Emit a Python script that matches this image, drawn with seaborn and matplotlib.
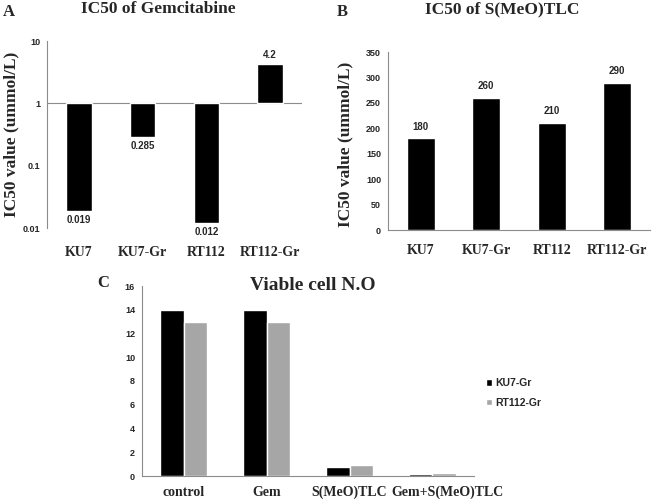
import numpy as np
import pandas as pd
import matplotlib
matplotlib.use("Agg")
import matplotlib.pyplot as plt
from matplotlib.transforms import ScaledTranslation
import seaborn as sns

# ---- data ----
cells = ["KU7", "KU7-Gr", "RT112", "RT112-Gr"]
gem_ic50 = [0.019, 0.285, 0.012, 4.2]
smeo_ic50 = [180, 260, 210, 290]
gem_ticks = [0.01, 0.1, 1, 10]
smeo_ticks = [0, 50, 100, 150, 200, 250, 300, 350]

treatments = ["control", "Gem", "S(MeO)TLC", "Gem+S(MeO)TLC"]
ku7gr_viable = [14, 14, 0.72, 0.17]
rt112gr_viable = [13, 13, 0.92, 0.22]
viable_ticks = [0, 2, 4, 6, 8, 10, 12, 14, 16]
series_names = ["KU7-Gr", "RT112-Gr"]

sns.set_style("white")
SERIF = "Liberation Serif"
SANS = "Liberation Sans"
GRAY_AX = "#8c8c8c"
BAR_GRAY = "#a6a6a6"

W, H = 655, 499
fig = plt.figure(figsize=(W / 100, H / 100), dpi=100)

def box(l, r, t, b):
    return [l / W, 1 - b / H, (r - l) / W, (b - t) / H]

def style_axes(ax):
    for s in ["top", "right"]:
        ax.spines[s].set_visible(False)
    for s in ["left", "bottom"]:
        ax.spines[s].set_color(GRAY_AX)
        ax.spines[s].set_linewidth(0.8)
    ax.tick_params(axis="y", length=3, width=0.8, color=GRAY_AX, pad=2)
    for lab in ax.get_yticklabels():
        lab.set_fontfamily(SANS)
        lab.set_fontweight("bold")
        lab.set_fontsize(6.5)

# ---- Panel A (log scale, bars hang from 1) ----
axA = fig.add_axes(box(47, 302, 41, 228))
dfA = pd.DataFrame({"cell": cells, "logv": np.log10(gem_ic50)})
sns.barplot(data=dfA, x="cell", y="logv", color="black", saturation=1,
            width=0.4, ax=axA)
axA.set_ylim(np.log10(gem_ticks[0]), np.log10(gem_ticks[-1]))
axA.set_yticks(np.log10(gem_ticks))
axA.set_yticklabels([f"{t:g}" for t in gem_ticks])
axA.axhline(0, color=GRAY_AX, lw=0.8, zorder=0)
axA.set_xlabel("")
axA.set_ylabel("IC50 value (ummol/L)", fontfamily=SERIF, fontweight="bold",
               fontsize=12.5)
axA.yaxis.set_label_coords((19 - 47) / 255, 0.5)
style_axes(axA)
axA.spines["bottom"].set_visible(False)
axA.tick_params(axis="x", length=0, pad=13)
for lab in axA.get_xticklabels():
    lab.set_fontfamily(SERIF); lab.set_fontweight("bold"); lab.set_fontsize(10)
axA.bar_label(axA.containers[0], labels=[f"{v:g}" for v in gem_ic50],
              padding=3, fontfamily=SANS, fontweight="bold", fontsize=7)

# ---- Panel B ----
axB = fig.add_axes(box(388, 650, 52, 230))
dfB = pd.DataFrame({"cell": cells, "v": smeo_ic50})
sns.barplot(data=dfB, x="cell", y="v", color="black", saturation=1,
            width=0.42, ax=axB)
axB.set_ylim(smeo_ticks[0], smeo_ticks[-1])
axB.set_yticks(smeo_ticks)
axB.set_xlabel("")
axB.set_ylabel("IC50 value (ummol/L)", fontfamily=SERIF, fontweight="bold",
               fontsize=12.5)
axB.yaxis.set_label_coords((353 - 388) / 262, 0.48)
style_axes(axB)
axB.set_xlim(-0.5, len(cells) - 0.5)
axB.set_xticks(np.arange(len(cells) + 1) - 0.5, minor=True)
axB.tick_params(axis="x", which="major", length=0, pad=10)
axB.tick_params(axis="x", which="minor", length=3, width=0.8, color=GRAY_AX)
for lab in axB.get_xticklabels():
    lab.set_fontfamily(SERIF); lab.set_fontweight("bold"); lab.set_fontsize(10)
axB.bar_label(axB.containers[0], labels=[f"{v:g}" for v in smeo_ic50],
              padding=5, fontfamily=SANS, fontweight="bold", fontsize=7)

# ---- Panel C ----
axC = fig.add_axes(box(142, 474, 286, 476))
dfC = pd.DataFrame({
    "treatment": treatments * 2,
    "viable": ku7gr_viable + rt112gr_viable,
    "line": [series_names[0]] * len(treatments) + [series_names[1]] * len(treatments),
})
sns.barplot(data=dfC, x="treatment", y="viable", hue="line",
            palette=["black", BAR_GRAY], saturation=1, width=0.56, ax=axC)
axC.set_ylim(viable_ticks[0], viable_ticks[-1])
axC.set_yticks(viable_ticks)
axC.set_xlabel("")
axC.set_ylabel("")
style_axes(axC)
axC.set_xlim(-0.5, len(treatments) - 0.5)
axC.set_xticks(np.arange(len(treatments) + 1) - 0.5, minor=True)
axC.tick_params(axis="x", which="major", length=0, pad=7)
axC.tick_params(axis="x", which="minor", length=3, width=0.8, color=GRAY_AX)
xlabsC = axC.get_xticklabels()
for lab in xlabsC:
    lab.set_fontfamily(SERIF); lab.set_fontweight("bold"); lab.set_fontsize(10)
# last label is nudged right in the reference to avoid overlap
xlabsC[-1].set_transform(xlabsC[-1].get_transform()
                         + ScaledTranslation(0.15, 0, fig.dpi_scale_trans))
axC.legend(title=None, loc="center left", bbox_to_anchor=(481 / W, 1 - 393 / H),
           bbox_transform=fig.transFigure, frameon=False,
           prop={"family": SANS, "weight": "bold", "size": 7.5},
           handlelength=0.55, handleheight=0.55, handletextpad=0.3,
           labelspacing=0.9, borderpad=0)

# ---- titles and panel letters ----
tkw = dict(fontfamily=SERIF, fontweight="bold", ha="center", va="center")
fig.text(158 / W, 1 - 9 / H, "IC50 of Gemcitabine", fontsize=12.5, **tkw)
fig.text(502 / W, 1 - 9 / H, "IC50 of S(MeO)TLC", fontsize=12.5, **tkw)
fig.text(313 / W, 1 - 285 / H, "Viable cell N.O", fontsize=14, **tkw)
fig.text(9 / W, 1 - 12 / H, "A", fontsize=12, **tkw)
fig.text(342 / W, 1 - 12 / H, "B", fontsize=12, **tkw)
fig.text(103 / W, 1 - 283 / H, "C", fontsize=12, **tkw)

fig.savefig("out.png", dpi=100)
